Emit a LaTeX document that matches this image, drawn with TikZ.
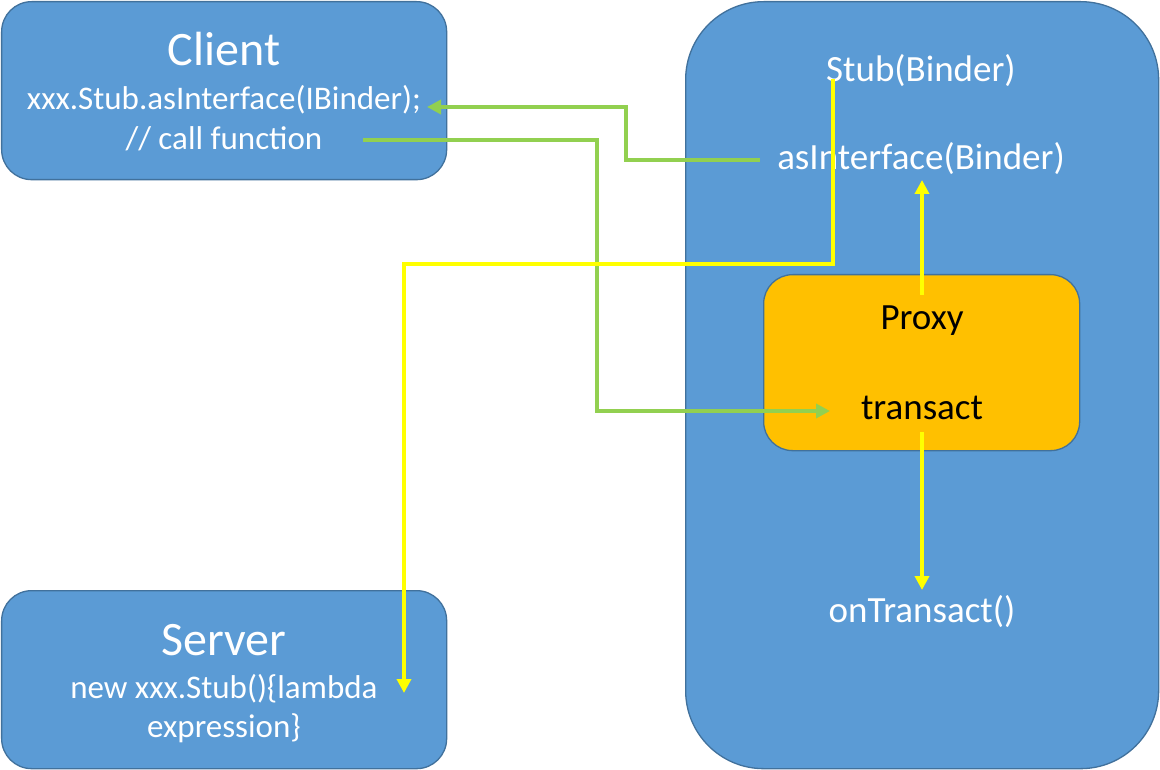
\documentclass[tikz,border=0pt]{standalone}
\usepackage{fontspec}
\setmainfont{Carlito}
\usetikzlibrary{arrows.meta}
\definecolor{boxblue}{HTML}{5B9BD5}
\definecolor{boxedge}{HTML}{41719C}
\definecolor{proxyfill}{HTML}{FFC000}
\definecolor{lgreen}{HTML}{92D050}
\definecolor{yel}{HTML}{FFFF00}
\tikzset{
  panel/.style={draw=boxedge, line width=1.3pt, fill=boxblue, anchor=north west, inner sep=0pt},
  proxybox/.style={draw=boxedge, line width=1.3pt, fill=proxyfill, anchor=north west, inner sep=0pt, rounded corners=29pt},
  wt/.style={text=white, anchor=base, inner sep=2pt},
  bt/.style={text=black, anchor=base, inner sep=2pt},
  big/.style={font=\fontsize{48}{58}\selectfont},
  mid/.style={font=\fontsize{37}{44}\selectfont},
  small/.style={font=\fontsize{33}{40}\selectfont},
  garrow/.style={draw=lgreen, line width=4pt, -{Triangle[width=14pt,length=14pt]}},
  yarrow/.style={draw=yel, line width=4pt, -{Triangle[width=14pt,length=14pt]}},
}
\begin{document}
\begin{tikzpicture}[x=1pt,y=-1pt]
\useasboundingbox[fill=white] (0,0) rectangle (1160,770);
% boxes
\node[panel, rounded corners=30pt, minimum width=445pt, minimum height=178pt] (client) at (1,1) {};
\node[panel, rounded corners=30pt, minimum width=445pt, minimum height=178pt] (server) at (1,590) {};
\node[panel, rounded corners=78pt, minimum width=473pt, minimum height=767pt] (binder) at (685,1) {};
\node[proxybox, minimum width=316pt, minimum height=176pt] (proxy) at (763,274) {};
% texts
\node[wt, big] (clienttitle) at (224,66) {Client};
\node[wt, small] (xxx) at (224,110) {xxx.Stub.asInterface(IBinder);};
\node[wt, small] (call) at (224,150) {// call function};
\node[wt, big] (servertitle) at (224,655) {Server};
\node[wt, small] (newstub) at (224,698) {new xxx.Stub()\{lambda};
\node[wt, small] (expr) at (224,737) {expression\}};
\node[wt, mid] (stub) at (921,82) {Stub(Binder)};
\node[wt, mid] (asi) at (921,170) {asInterface(Binder)};
\node[bt, mid] (proxytxt) at (922,330) {Proxy};
\node[bt, mid] (transact) at (922,419) {transact};
\node[wt, mid] (ontr) at (922,622) {onTransact()};
% connector corner points
\coordinate (g1s) at (760,160);
\coordinate (g1a) at (626,160);
\coordinate (g1b) at (626,107);
\coordinate (g1e) at (427,107);
\coordinate (g2s) at (363,140);
\coordinate (g2a) at (597,140);
\coordinate (g2b) at (597,411);
\coordinate (g2e) at (830,411);
\coordinate (y1s) at (833,79);
\coordinate (y1a) at (833,264);
\coordinate (y1b) at (404,264);
\coordinate (y1e) at (404,693);
\coordinate (y2s) at (922,295);
\coordinate (y2e) at (922,180);
\coordinate (y3s) at (922,432);
\coordinate (y3e) at (922,590);
% connectors
\draw[garrow] (g1s) -- (g1a) -- (g1b) -- (g1e);
\draw[garrow] (g2s) -- (g2a) -- (g2b) -- (g2e);
\draw[yarrow] (y1s) -- (y1a) -- (y1b) -- (y1e);
\draw[yarrow] (y2s) -- (y2e);
\draw[yarrow] (y3s) -- (y3e);
\end{tikzpicture}
\end{document}
